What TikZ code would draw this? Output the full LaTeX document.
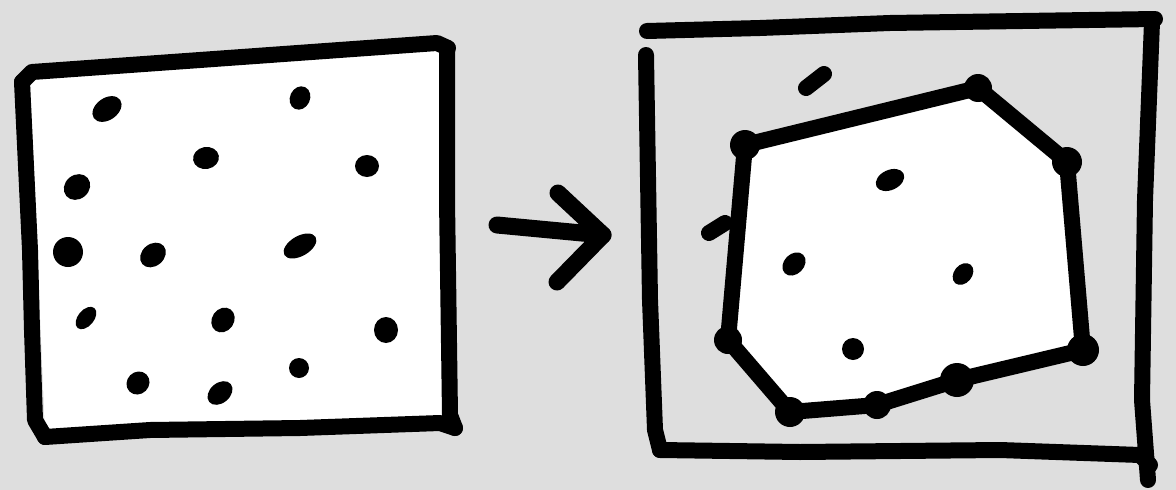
\documentclass[tikz,border=0pt]{standalone}
\definecolor{bg}{RGB}{222,222,222}
\tikzset{
  pen/.style={line width=16pt, line cap=round, line join=round, draw=black},
  dotfill/.style={fill=black},
}
\newcommand{\dotE}[5]{\fill[dotfill, rotate around={#5:(#1,#2)}] (#1,#2) ellipse (#3 and #4);}
\begin{document}
\begin{tikzpicture}[x=1pt,y=-1pt]
\fill[bg] (0,0) rectangle (1176,490);
\useasboundingbox (0,0) rectangle (1176,490);
% ---------- left square ----------
\fill[white] (30,75) -- (440,45) -- (450,423) -- (45,433) -- cycle;
\draw[pen] (22,82) -- (32,72) -- (200,60) -- (437,43) -- (448,48);
\draw[pen] (22,82) -- (30,250) -- (32,330) -- (35,420) -- (45,437);
\draw[pen] (45,437) -- (150,430) -- (300,428) -- (440,423) -- (455,428);
\draw[pen] (447,48) -- (447,200) -- (450,415) -- (455,428);
\dotE{107}{109}{16}{11}{35}
\dotE{300}{98}{12}{10}{65}
\dotE{206}{158}{13}{11}{10}
\dotE{367}{166}{12}{11}{0}
\dotE{77}{187}{14}{12}{40}
\dotE{68}{252}{15}{15}{0}
\dotE{153}{255}{14}{11}{40}
\dotE{300}{246}{18}{10}{30}
\dotE{86}{318}{13}{8}{50}
\dotE{223}{320}{13}{11}{55}
\dotE{386}{330}{12}{13}{0}
\dotE{138}{383}{12}{11}{45}
\dotE{220}{393}{14}{10}{40}
\dotE{299}{368}{10}{10}{0}
% ---------- arrow ----------
\coordinate (s0) at (497,225);
\coordinate (tip) at (603,235);
\coordinate (h1) at (558,193);
\coordinate (h2) at (557,282);
\draw[pen, line width=17pt] (s0) -- (tip);
\draw[pen, line width=17pt] (h1) -- (tip) -- (h2);
% ---------- right frame ----------
\draw[pen] (647,31) -- (760,28) -- (890,23) -- (1155,19);
\draw[pen] (646,55) -- (650,300) -- (655,430) -- (660,450);
\draw[pen] (660,450) -- (800,452) -- (1000,450) -- (1140,455) -- (1150,465);
\draw[pen] (1152,22) -- (1145,200) -- (1142,400) -- (1148,480);
% ---------- hull ----------
\coordinate (A) at (745,145);
\coordinate (B) at (978,88);
\coordinate (C) at (1067,162);
\coordinate (D) at (1083,350);
\coordinate (E) at (957,380);
\coordinate (F) at (877,405);
\coordinate (G) at (790,412);
\coordinate (H) at (728,340);
\filldraw[pen, fill=white] (A) -- (B) -- (C) -- (D) -- (E) -- (F) -- (G) -- (H) -- cycle;
\foreach \p/\r in {A/15,B/14,C/15,D/16,E/17,F/14,G/15,H/14}{\fill[black] (\p) circle (\r);}
\dotE{890}{180}{15}{10}{25}
\dotE{794}{264}{13}{10}{45}
\dotE{963}{274}{12}{9}{50}
\dotE{853}{349}{11}{11}{0}
\draw[pen] (806,88) -- (824,74);
\draw[pen] (709,233) -- (725,223);
\end{tikzpicture}
\end{document}
